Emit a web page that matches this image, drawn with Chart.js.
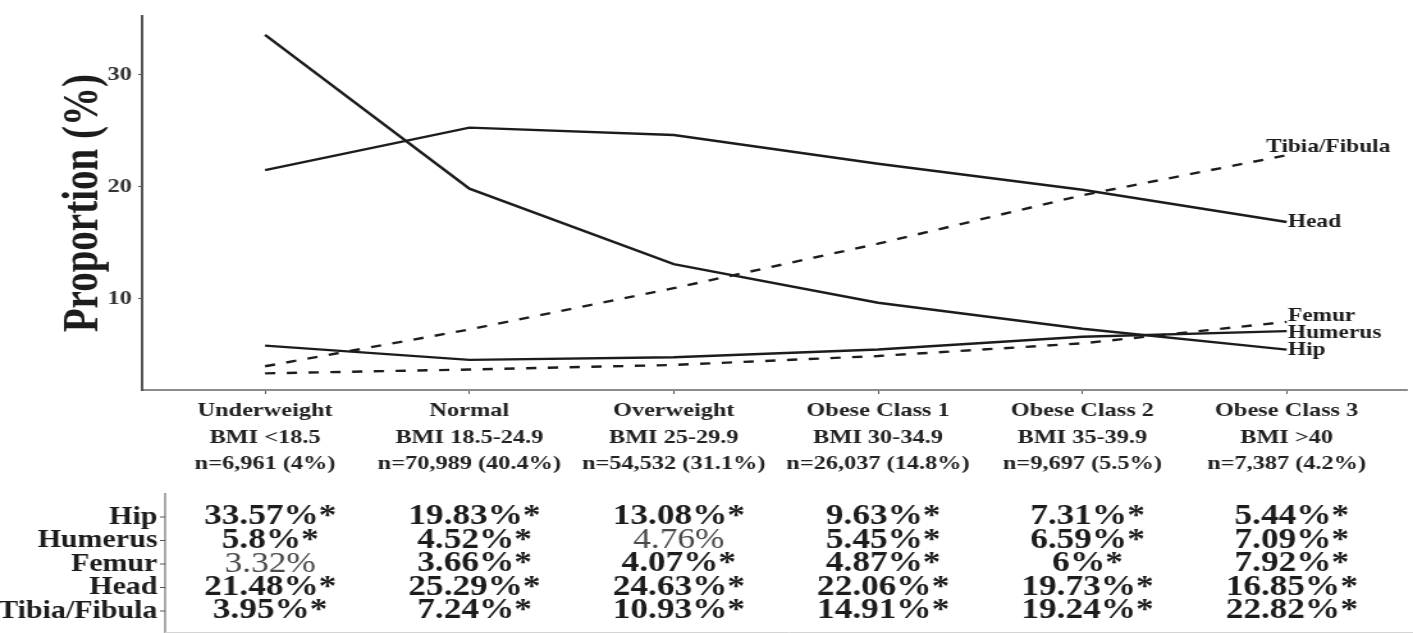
<!DOCTYPE html>
<html>
<head>
<meta charset="utf-8">
<script src="https://cdn.jsdelivr.net/npm/chart.js@4"></script>
<style>
  html, body { margin: 0; padding: 0; background: #ffffff; }
  #chart { display: block; }
</style>
</head>
<body>
<!-- the figure is laid out on a narrower canvas and widened by CSS, giving the wide serif lettering -->
<canvas id="chart" width="1104" height="633" style="width:1413px;height:633px"></canvas>
<script>
// BMI groups along the x axis
const categories = ['Underweight', 'Normal', 'Overweight', 'Obese Class 1', 'Obese Class 2', 'Obese Class 3'];
const bmiRanges = ['BMI <18.5', 'BMI 18.5-24.9', 'BMI 25-29.9', 'BMI 30-34.9', 'BMI 35-39.9', 'BMI >40'];
const groupSizes = ['n=6,961 (4%)', 'n=70,989 (40.4%)', 'n=54,532 (31.1%)', 'n=26,037 (14.8%)', 'n=9,697 (5.5%)', 'n=7,387 (4.2%)'];

// proportion of fractures (%) by site
const hip = [33.57, 19.83, 13.08, 9.63, 7.31, 5.44];
const humerus = [5.8, 4.52, 4.76, 5.45, 6.59, 7.09];
const femur = [3.32, 3.66, 4.07, 4.87, 6, 7.92];
const head = [21.48, 25.29, 24.63, 22.06, 19.73, 16.85];
const tibiaFibula = [3.95, 7.24, 10.93, 14.91, 19.24, 22.82];

// 1 = marked with an asterisk in the table
const hipSig = [1, 1, 1, 1, 1, 1];
const humerusSig = [1, 1, 0, 1, 1, 1];
const femurSig = [0, 1, 1, 1, 1, 1];
const headSig = [1, 1, 1, 1, 1, 1];
const tibiaFibulaSig = [1, 1, 1, 1, 1, 1];

const yTicks = [10, 20, 30];

const SERIF = '"Liberation Serif", "Times New Roman", serif';
const INK = '#1c1c1c';

const sites = [
  { name: 'Hip', values: hip, sig: hipSig, dashed: false, nudge: [1, 0] },
  { name: 'Humerus', values: humerus, sig: humerusSig, dashed: false, nudge: [1, 2] },
  { name: 'Femur', values: femur, sig: femurSig, dashed: true, nudge: [1, -6] },
  { name: 'Head', values: head, sig: headSig, dashed: false, nudge: [1, 0] },
  { name: 'Tibia/Fibula', values: tibiaFibula, sig: tibiaFibulaSig, dashed: true, nudge: [-16, -8] }
];

const datasets = sites.map(s => ({
  label: s.name,
  data: s.values.map((v, i) => ({ x: i, y: v })),
  borderColor: INK,
  borderWidth: 2.4,
  borderDash: s.dashed ? [8, 9] : [],
  pointRadius: 0,
  tension: 0,
  fill: false
}));

// text squeezed horizontally around its anchor
function squeezedText(ctx, text, x, y, k) {
  ctx.save();
  ctx.translate(x, y);
  ctx.scale(k, 1);
  ctx.fillText(text, 0, 0);
  ctx.restore();
}

// site names at the line ends and the percentage table under the axis
const annotations = {
  id: 'annotations',
  afterDraw(chart) {
    const { ctx, scales: { x, y } } = chart;
    ctx.save();
    ctx.fillStyle = INK;
    ctx.textBaseline = 'middle';
    ctx.textAlign = 'left';
    ctx.font = 'bold 19px ' + SERIF;
    const last = categories.length - 1;
    sites.forEach(s => {
      const px = x.getPixelForValue(last) + s.nudge[0];
      const py = y.getPixelForValue(s.values[last]) + s.nudge[1];
      squeezedText(ctx, s.name, px, py, 0.96);
    });

    // table
    const rowY = [517, 540.5, 564, 587.5, 611];
    const ruleX = 129;
    ctx.strokeStyle = '#555';
    ctx.lineWidth = 1;
    ctx.beginPath();
    ctx.moveTo(ruleX, 493);
    ctx.lineTo(ruleX, 633);
    rowY.forEach(ry => { ctx.moveTo(ruleX - 4, ry); ctx.lineTo(ruleX, ry); });
    ctx.stroke();
    ctx.strokeStyle = '#d4d4d4';
    ctx.beginPath();
    ctx.moveTo(ruleX, 632.5);
    ctx.lineTo(chart.width, 632.5);
    ctx.stroke();

    ctx.textAlign = 'right';
    ctx.fillStyle = INK;
    ctx.font = 'bold 26px ' + SERIF;
    sites.forEach((s, r) => squeezedText(ctx, s.name, ruleX - 6, rowY[r], 0.9));

    ctx.textAlign = 'center';
    sites.forEach((s, r) => {
      s.values.forEach((v, i) => {
        const cx = x.getPixelForValue(i) + 4;
        if (s.sig[i]) {
          ctx.font = 'bold 29px ' + SERIF;
          ctx.fillStyle = INK;
          squeezedText(ctx, v + '%*', cx, rowY[r], 0.95);
        } else {
          ctx.font = '29px ' + SERIF;
          ctx.fillStyle = '#4a4a4a';
          squeezedText(ctx, v + '%', cx, rowY[r], 0.95);
        }
      });
    });
    ctx.restore();
  }
};

new Chart(document.getElementById('chart'), {
  type: 'line',
  data: { datasets },
  options: {
    responsive: false,
    animation: false,
    devicePixelRatio: 1,
    layout: { padding: { top: 13, right: 5, left: 0, bottom: 0 } },
    plugins: { legend: { display: false }, tooltip: { enabled: false } },
    scales: {
      x: {
        type: 'linear',
        min: -0.602,
        max: 5.587,
        afterBuildTicks: s => { s.ticks = categories.map((c, i) => ({ value: i })); },
        afterFit: s => { s.height = 243; },
        grid: { drawOnChartArea: false, drawTicks: true, tickLength: 4, color: '#555', lineWidth: 1 },
        border: { color: '#8c8c8c', width: 2 },
        ticks: {
          autoSkip: false,
          maxRotation: 0,
          padding: 4,
          color: '#222',
          font: { family: SERIF, weight: 'bold', size: 19, lineHeight: 1.39 },
          callback: v => [categories[v], bmiRanges[v], groupSizes[v]]
        }
      },
      y: {
        min: 1.83,
        max: 35.23,
        afterBuildTicks: s => { s.ticks = yTicks.map(v => ({ value: v })); },
        afterFit: s => { s.width = 111; },
        grid: { drawOnChartArea: false, drawTicks: true, tickLength: 3, color: '#555', lineWidth: 1 },
        border: { color: '#555', width: 2 },
        ticks: {
          padding: 5,
          color: '#333',
          font: { family: SERIF, weight: 'bold', size: 19 }
        },
        title: {
          display: true,
          text: 'Proportion (%)',
          color: '#1c1c1c',
          font: { family: SERIF, weight: 'bold', size: 39 },
          padding: { top: 43, bottom: 0 }
        }
      }
    }
  },
  plugins: [annotations]
});
</script>
</body>
</html>
